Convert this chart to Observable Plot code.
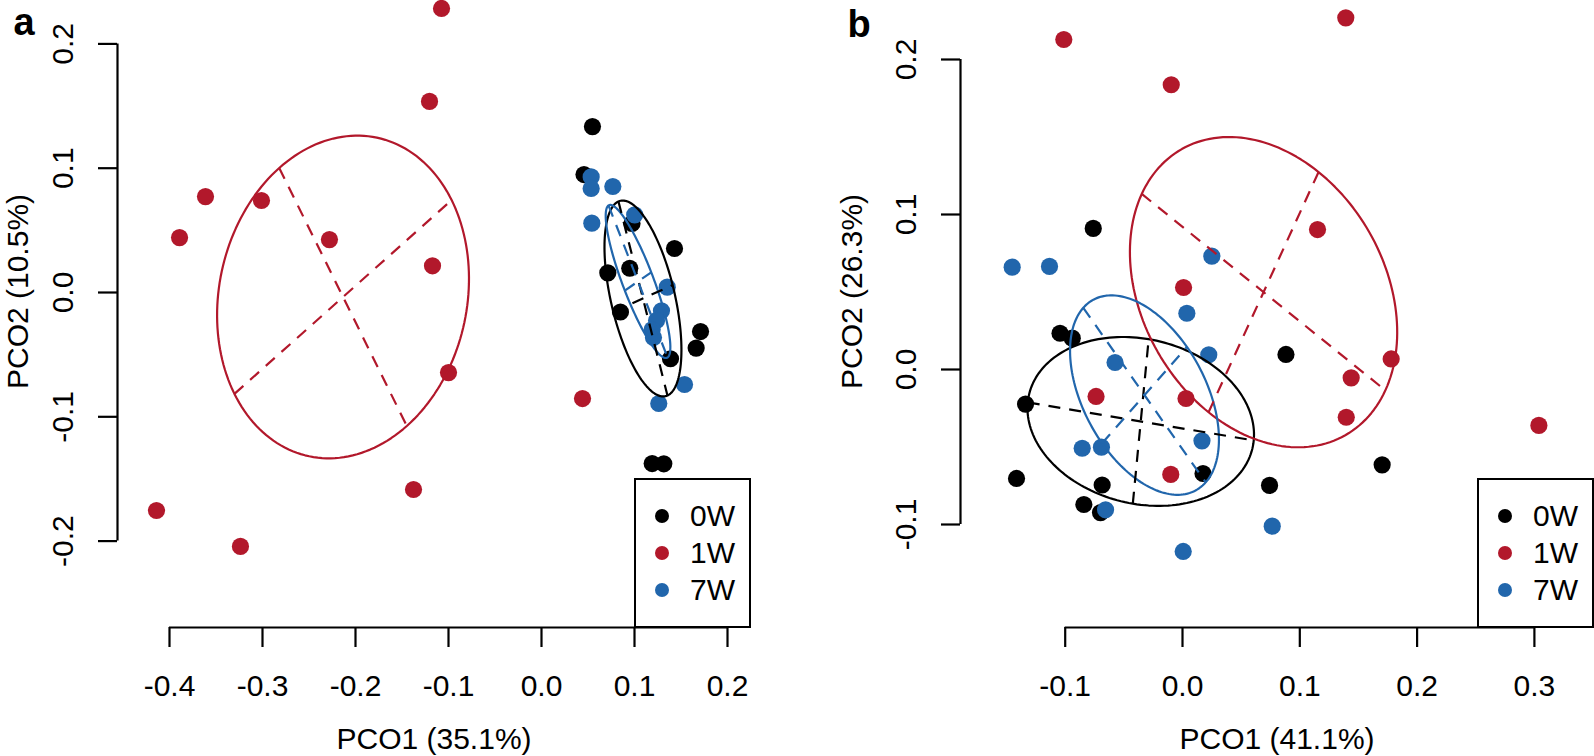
<!DOCTYPE html>
<html>
<head>
<meta charset="utf-8">
<script src="https://cdn.jsdelivr.net/npm/d3@7"></script>
<script src="https://cdn.jsdelivr.net/npm/@observablehq/plot@0.6"></script>
<style>
  html, body { margin: 0; padding: 0; background: #fff; }
  #wrap { position: relative; width: 1594px; height: 756px; overflow: hidden; font-family: "Liberation Sans", Arial, Helvetica, sans-serif; }
  .panel { position: absolute; top: 0; }
  .legend { position: absolute; border: 2px solid #000; box-sizing: border-box; background: #fff; }
  .legend .sw { position: absolute; width: 14px; height: 14px; border-radius: 50%; }
  .legend .lab { position: absolute; font-size: 30px; line-height: 1; color: #000; white-space: nowrap; }
</style>
</head>
<body>
<div id="wrap"></div>
<script>
// ---------- categories ----------
const groups = ["0W", "1W", "7W"];
const groupColors = ["#000000", "#B2182B", "#2166AC"];

// ---------- panel a : PCO scores ----------
const aX0W = [0.0548, 0.0457, 0.0973, 0.1430, 0.0713, 0.0949, 0.0849, 0.1710, 0.1663, 0.1387, 0.1190, 0.1315];
const aY0W = [0.1335, 0.0949, 0.0555, 0.0354, 0.0158, 0.0195, -0.0157, -0.0314, -0.0447, -0.0533, -0.1376, -0.1378];
const aX1W = [-0.3613, -0.3011, -0.3892, -0.2280, -0.1075, -0.1204, -0.1172, -0.1000, 0.0441, -0.1376, -0.4140, -0.3237];
const aY1W = [0.0772, 0.0740, 0.0442, 0.0426, 0.2285, 0.1537, 0.0215, -0.0644, -0.0853, -0.1585, -0.1754, -0.2043];
const aX7W = [0.0534, 0.0534, 0.0767, 0.0541, 0.1002, 0.1352, 0.1290, 0.1237, 0.1190, 0.1204, 0.1538, 0.1261];
const aY7W = [0.0930, 0.0837, 0.0853, 0.0558, 0.0625, 0.0043, -0.0147, -0.0225, -0.0298, -0.0362, -0.0740, -0.0893];

// panel a ellipses (centre, half major axis vector, half minor axis vector), order 0W,1W,7W
const aEllCx = [0.1091, -0.2134, 0.1038];
const aEllCy = [-0.0048, -0.0036, 0.0089];
const aEllMajX = [0.02634, 0.11677, 0.03172];
const aEllMajY = [-0.07804, 0.07796, -0.06114];
const aEllMinX = [0.0319, 0.0686, 0.0142];
const aEllMinY = [0.0108, -0.10378, 0.00737];

// ---------- panel b : PCO scores ----------
const bX0W = [-0.0761, -0.1044, -0.0940, 0.0882, -0.1338, -0.1415, -0.0685, 0.0175, -0.0841, -0.0699, 0.1702, 0.0742];
const bY0W = [0.0910, 0.0234, 0.0202, 0.0097, -0.0223, -0.0703, -0.0745, -0.0671, -0.0871, -0.0923, -0.0615, -0.0748];
const bX1W = [-0.1012, -0.0096, 0.1392, 0.1151, 0.0009, 0.1779, 0.1438, 0.1396, 0.3038, -0.0737, 0.0030, -0.0100];
const bY1W = [0.2129, 0.1837, 0.2269, 0.0903, 0.0529, 0.0068, -0.0054, -0.0308, -0.0361, -0.0174, -0.0187, -0.0677];
const bX7W = [-0.1452, -0.1134, 0.0250, 0.0037, -0.0575, 0.0224, -0.0855, -0.0691, 0.0166, -0.0656, 0.0006, 0.0765];
const bY7W = [0.0660, 0.0665, 0.0731, 0.0363, 0.0045, 0.0095, -0.0508, -0.0501, -0.0460, -0.0905, -0.1174, -0.1011];

const bEllCx = [-0.0356, 0.0691, -0.0324];
const bEllCy = [-0.0335, 0.0499, -0.0165];
const bEllMajX = [0.09633, 0.10384, 0.05217];
const bEllMajY = [-0.01226, -0.06335, -0.05632];
const bEllMinX = [0.00676, 0.04689, 0.03615];
const bEllMinY = [0.05307, 0.07748, 0.03110];

// ---------- tick labels & titles ----------
const aXTicks = [-0.4, -0.3, -0.2, -0.1, 0.0, 0.1, 0.2];
const aYTicks = [-0.2, -0.1, 0.0, 0.1, 0.2];
const bXTicks = [-0.1, 0.0, 0.1, 0.2, 0.3];
const bYTicks = [-0.1, 0.0, 0.1, 0.2];
const aXTitle = "PCO1 (35.1%)", aYTitle = "PCO2 (10.5%)";
const bXTitle = "PCO1 (41.1%)", bYTitle = "PCO2 (26.3%)";

const FONT = "Liberation Sans, Arial, Helvetica, sans-serif";
const FS = 30;
const fmt = v => v.toFixed(1);

function buildPanel(cfg) {
  const pts = [];
  cfg.xs.forEach((xs, gi) => xs.forEach((x, i) => pts.push({group: groups[gi], x, y: cfg.ys[gi][i]})));
  const outline = [];
  const segs = [];
  groups.forEach((g, gi) => {
    const e = {cx: cfg.ell.cx[gi], cy: cfg.ell.cy[gi], ax: cfg.ell.majX[gi], ay: cfg.ell.majY[gi], bx: cfg.ell.minX[gi], by: cfg.ell.minY[gi]};
    d3.range(0, 361, 2).forEach(deg => {
      const t = deg * Math.PI / 180;
      outline.push({group: g, x: e.cx + Math.cos(t) * e.ax + Math.sin(t) * e.bx, y: e.cy + Math.cos(t) * e.ay + Math.sin(t) * e.by});
    });
    segs.push({group: g, x1: e.cx - e.ax, y1: e.cy - e.ay, x2: e.cx + e.ax, y2: e.cy + e.ay});
    segs.push({group: g, x1: e.cx - e.bx, y1: e.cy - e.by, x2: e.cx + e.bx, y2: e.cy + e.by});
  });
  return Plot.plot({
    width: 797, height: 756,
    marginLeft: cfg.marginLeft, marginRight: cfg.marginRight, marginTop: 0, marginBottom: 129,
    x: {domain: cfg.xDomain},
    y: {domain: cfg.yDomain},
    color: {domain: groups, range: groupColors},
    style: {fontFamily: FONT, background: "transparent", overflow: "visible"},
    marks: [
      Plot.dot(pts, {x: "x", y: "y", fill: "group", r: 8.6}),
      Plot.line(outline, {x: "x", y: "y", z: "group", stroke: "group", strokeWidth: 2.2}),
      Plot.link(segs, {x1: "x1", y1: "y1", x2: "x2", y2: "y2", stroke: "group", strokeWidth: 2.2, strokeDasharray: "12,9"}),
      Plot.ruleY([cfg.yDomain[0]], {x1: cfg.xTicks[0], x2: cfg.xTicks[cfg.xTicks.length - 1], stroke: "#000", strokeWidth: 2.2}),
      Plot.ruleX([cfg.xDomain[0]], {y1: cfg.yTicks[0], y2: cfg.yTicks[cfg.yTicks.length - 1], stroke: "#000", strokeWidth: 2.2}),
      Plot.axisX(cfg.xTicks, {tickSize: 20, tickPadding: 27, fontSize: FS, tickFormat: fmt, strokeWidth: 2.2, label: null}),
      Plot.axisY(cfg.yTicks, {tickSize: 19, tickPadding: 26, tickRotate: -90, fontSize: FS, tickFormat: fmt, strokeWidth: 2.2, label: null}),
      Plot.text([cfg.xTitle], {frameAnchor: "bottom", textAnchor: "middle", lineAnchor: "bottom", dy: 121, fontSize: FS, fill: "#000"}),
      Plot.text([cfg.yTitle], {frameAnchor: "left", textAnchor: "middle", lineAnchor: "middle", rotate: -90, dx: cfg.yTitleDx, dy: -22.5, fontSize: FS, fill: "#000"}),
      Plot.text([cfg.letter], {frameAnchor: "top-left", textAnchor: "start", lineAnchor: "bottom", dx: cfg.letterDx, dy: cfg.letterDy, fontSize: 38, fontWeight: "bold", fill: "#000"})
    ]
  });
}

function buildLegend(left) {
  const box = document.createElement("div");
  box.className = "legend";
  Object.assign(box.style, {left: left + "px", top: "478px", width: "117px", height: "150px"});
  groups.forEach((g, i) => {
    const sw = document.createElement("div");
    sw.className = "sw";
    Object.assign(sw.style, {left: "19px", top: (29 + i * 37) + "px", background: groupColors[i]});
    const lab = document.createElement("div");
    lab.className = "lab";
    Object.assign(lab.style, {left: "54px", top: (21 + i * 37) + "px"});
    lab.textContent = g;
    box.appendChild(sw);
    box.appendChild(lab);
  });
  return box;
}

const wrap = document.getElementById("wrap");

const pa = buildPanel({
  xs: [aX0W, aX1W, aX7W], ys: [aY0W, aY1W, aY7W],
  ell: {cx: aEllCx, cy: aEllCy, majX: aEllMajX, majY: aEllMajY, minX: aEllMinX, minY: aEllMinY},
  xDomain: [-0.45591, 0.22473], yDomain: [-0.26951, 0.23492],
  marginLeft: 117, marginRight: 47,
  xTicks: aXTicks, yTicks: aYTicks, xTitle: aXTitle, yTitle: aYTitle,
  yTitleDx: -99, letter: "a", letterDx: -104, letterDy: 34
});
const da = document.createElement("div");
da.className = "panel"; da.style.left = "0px";
da.appendChild(pa);
wrap.appendChild(da);

const pb = buildPanel({
  xs: [bX0W, bX1W, bX7W], ys: [bY0W, bY1W, bY7W],
  ell: {cx: bEllCx, cy: bEllCy, majX: bEllMajX, majY: bEllMajY, minX: bEllMinX, minY: bEllMinY},
  xDomain: [-0.18926, 0.35038], yDomain: [-0.16645, 0.23806],
  marginLeft: 163, marginRight: 1,
  xTicks: bXTicks, yTicks: bYTicks, xTitle: bXTitle, yTitle: bYTitle,
  yTitleDx: -108, letter: "b", letterDx: -113, letterDy: 36
});
const db = document.createElement("div");
db.className = "panel"; db.style.left = "797px";
db.appendChild(pb);
wrap.appendChild(db);

wrap.appendChild(buildLegend(634));
wrap.appendChild(buildLegend(1477));
</script>
</body>
</html>
